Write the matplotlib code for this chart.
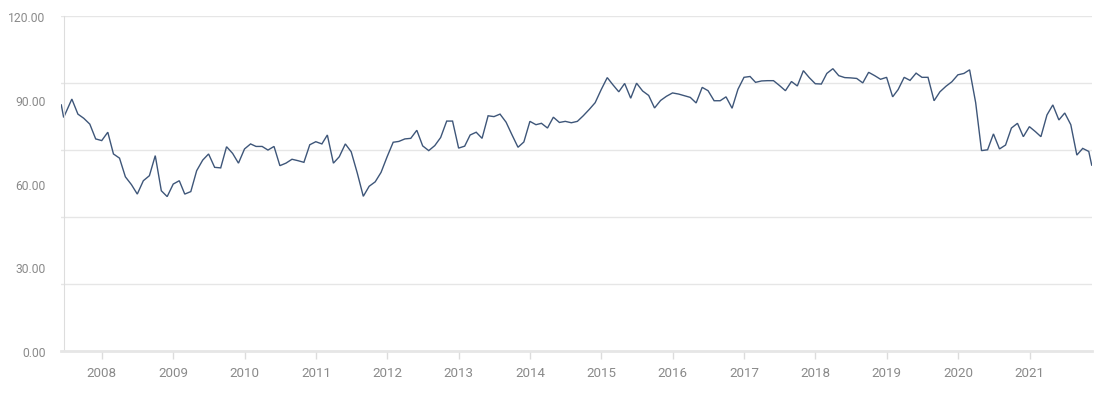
import pandas as pd
import matplotlib
matplotlib.use('Agg')
import matplotlib.pyplot as plt
import matplotlib.dates as mdates
from matplotlib.ticker import FixedLocator

# first two readings are mid-June 2007, then month-end values, last one mid-Nov 2021
lead_dates = ['2007-06-07', '2007-06-19']
lead_values = [88.2, 83.7]

month_values = [
    90.3, 84.9, 83.4, 81.3, 76.0,                                        # 2007 Jul-Nov
    75.4, 78.4, 70.6, 69.1, 62.4, 59.6, 56.2, 61.0, 62.8, 70.0, 57.4, 55.3,  # 2008
    59.8, 61.0, 56.2, 57.1, 64.6, 68.4, 70.6, 65.8, 65.6, 73.2, 70.8, 67.3,  # 2009
    72.4, 74.2, 73.3, 73.3, 72.0, 73.3, 66.4, 67.3, 68.7, 68.2, 67.6, 73.9,  # 2010
    75.0, 74.2, 77.4, 67.3, 69.6, 74.2, 71.4, 63.8, 55.4, 59.0, 60.6, 64.0,  # 2011
    69.6, 74.8, 75.1, 76.0, 76.2, 79.1, 73.5, 71.8, 73.6, 76.5, 82.4, 82.4,  # 2012
    72.7, 73.4, 77.4, 78.4, 76.2, 84.3, 84.0, 84.9, 82.0, 77.5, 73.0, 74.9,  # 2013
    82.3, 81.1, 81.6, 79.9, 83.8, 81.9, 82.3, 81.8, 82.3, 84.3, 86.6, 89.0,  # 2014
    93.7, 98.0, 95.5, 92.9, 95.9, 90.6, 96.0, 93.2, 91.6, 87.1, 89.8, 91.3,  # 2015
    92.5, 92.1, 91.5, 90.9, 88.9, 94.5, 93.3, 89.7, 89.7, 91.1, 87.0, 93.8,  # 2016
    98.1, 98.4, 96.3, 96.8, 96.9, 96.9, 95.2, 93.3, 96.6, 95.0, 100.5, 98.0,  # 2017
    95.8, 95.7, 99.5, 101.2, 98.7, 98.0, 97.9, 97.7, 96.1, 99.9, 98.7, 97.4,  # 2018
    98.1, 91.1, 93.7, 98.1, 97.0, 99.6, 98.1, 98.1, 89.7, 92.9, 94.9, 96.5,  # 2019
    99.0, 99.5, 100.8, 89.0, 71.8, 72.1, 77.8, 72.4, 73.8, 79.9, 81.6, 76.8,  # 2020
    80.4, 78.6, 76.8, 84.6, 88.2, 82.8, 85.3, 81.1, 70.2, 72.6, 71.5,        # 2021 Jan-Oct
]

tail_dates = ['2021-11-15']
tail_values = [66.6]

grid_values = [0, 24, 48, 72, 96, 120]
label_values = [0, 30, 60, 90, 120]

month_dates = pd.date_range('2007-08-01', periods=len(month_values), freq='MS') - pd.Timedelta(days=1)
dates = list(pd.to_datetime(lead_dates)) + list(month_dates) + list(pd.to_datetime(tail_dates))
values = lead_values + month_values + tail_values

plt.rcParams['font.family'] = ['Roboto', 'DejaVu Sans']

fig = plt.figure(figsize=(11.2, 4.06), dpi=100)
ax = fig.add_axes([61.3 / 1120, 54.3 / 406, (1091.7 - 61.3) / 1120, (351.7 - 17.3) / 406])

ax.plot(dates, values, color='#3e5679', linewidth=1.0, solid_joinstyle='miter')

ax.set_xlim(dates[0], dates[-1])
ax.set_ylim(0, 120)

# grid every 24, labels every 30
ax.yaxis.remove_overlapping_locs = False
ax.yaxis.set_major_locator(FixedLocator(grid_values))
ax.yaxis.set_minor_locator(FixedLocator(label_values))
ax.yaxis.set_major_formatter(plt.NullFormatter())
ax.yaxis.set_minor_formatter(plt.FuncFormatter(lambda v, p: f'{v:.2f}'))
ax.tick_params(axis='y', which='major', length=0)
ax.tick_params(axis='y', which='minor', length=0, pad=13, labelsize=8.7, labelcolor='#8a8a8a')
ax.grid(axis='y', which='major', color='#e6e6e6', linewidth=1.0)
ax.set_axisbelow(True)

ax.xaxis.set_major_locator(mdates.YearLocator())
ax.xaxis.set_major_formatter(mdates.DateFormatter('%Y'))
ax.tick_params(axis='x', which='major', length=6, width=1, color='#dcdcdc',
               pad=5, labelsize=9.6, labelcolor='#8a8a8a')

for side in ['top', 'right']:
    ax.spines[side].set_visible(False)
ax.spines['left'].set_position(('data', mdates.date2num(dates[1])))
ax.spines['left'].set_color('#dddddd')
ax.spines['left'].set_linewidth(0.8)
ax.spines['bottom'].set_color('#e6e6e6')
ax.spines['bottom'].set_linewidth(2.0)

fig.savefig('out.png', dpi=100)
